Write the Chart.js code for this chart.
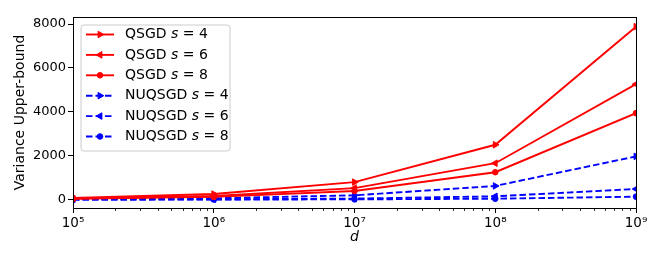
<!DOCTYPE html>
<html lang="en">
<head>
<meta charset="UTF-8">
<title>Variance Upper-bound</title>
<script src="https://cdn.jsdelivr.net/npm/chart.js@4"></script>
<style>
  html, body { margin: 0; padding: 0; background: #fff; }
  #wrap { width: 664px; height: 266px; }
</style>
</head>
<body>
<div id="wrap"><canvas id="chart" width="664" height="266"></canvas></div>
<script>
// data
const dims = [1e5, 1e6, 1e7, 1e8, 1e9];
const qsgdS4 = [80, 255, 800, 2500, 7880];
const qsgdS6 = [53, 166, 526, 1660, 5260];
const qsgdS8 = [40, 125, 395, 1250, 3940];
const nuqsgdS4 = [20, 62, 197, 625, 1970];
const nuqsgdS6 = [5, 15, 48, 152, 485];
const nuqsgdS8 = [1.4, 4.3, 14, 43, 136];
const xTicks = [1e5, 1e6, 1e7, 1e8, 1e9];
const yTicks = [0, 2000, 4000, 6000, 8000];
const yMin = -380;
const yMax = 8320;

const FONT = "'DejaVu Sans', sans-serif";
const RED = '#ff0000';
const BLUE = '#0000ff';
const DASH = [6.5, 3];

const sup = { '0': '⁰', '1': '¹', '2': '²', '3': '³', '4': '⁴', '5': '⁵', '6': '⁶', '7': '⁷', '8': '⁸', '9': '⁹' };

function series(method, s, values, color, dashed, style, rot, radius) {
  return {
    label: method + ' s = ' + s,
    method: method,
    sVal: s,
    data: dims.map((d, i) => ({ x: d, y: values[i] })),
    borderColor: color,
    backgroundColor: color,
    borderWidth: 1.9,
    borderDash: dashed ? DASH : [],
    pointStyle: style,
    pointRotation: rot,
    pointRadius: radius,
    pointBorderWidth: 1,
    pointHoverRadius: radius,
    tension: 0,
    clip: 0
  };
}

const datasets = [
  series('QSGD', 4, qsgdS4, RED, false, 'triangle', 90, 3.8),
  series('QSGD', 6, qsgdS6, RED, false, 'triangle', -90, 3.8),
  series('QSGD', 8, qsgdS8, RED, false, 'circle', 0, 2.8),
  series('NUQSGD', 4, nuqsgdS4, BLUE, true, 'triangle', 90, 3.8),
  series('NUQSGD', 6, nuqsgdS6, BLUE, true, 'triangle', -90, 3.8),
  series('NUQSGD', 8, nuqsgdS8, BLUE, true, 'circle', 0, 2.8)
];

// frame on top/right plus minor log ticks
const framePlugin = {
  id: 'frame',
  afterDraw(chart) {
    const { ctx, chartArea: a } = chart;
    const xs = chart.scales.x;
    ctx.save();
    ctx.strokeStyle = '#000';
    ctx.lineWidth = 1;
    ctx.strokeRect(Math.round(a.left) + 0.5, Math.round(a.top) + 0.5,
      Math.round(a.right - a.left), Math.round(a.bottom - a.top));
    ctx.beginPath();
    for (let e = 5; e < 9; e++) {
      for (let m = 2; m <= 9; m++) {
        const px = Math.round(xs.getPixelForValue(m * Math.pow(10, e))) + 0.5;
        ctx.moveTo(px, a.bottom);
        ctx.lineTo(px, a.bottom + 3);
      }
    }
    ctx.lineWidth = 0.8;
    ctx.stroke();
    ctx.restore();
  }
};

// matplotlib style legend: line sample with marker in the middle
const legendPlugin = {
  id: 'mplLegend',
  afterDraw(chart) {
    const { ctx, chartArea: a } = chart;
    const x0 = a.left + 8, y0 = a.top + 8;
    const w = 149, h = 126, r = 3;
    ctx.save();
    ctx.beginPath();
    ctx.moveTo(x0 + r, y0);
    ctx.arcTo(x0 + w, y0, x0 + w, y0 + h, r);
    ctx.arcTo(x0 + w, y0 + h, x0, y0 + h, r);
    ctx.arcTo(x0, y0 + h, x0, y0, r);
    ctx.arcTo(x0, y0, x0 + w, y0, r);
    ctx.closePath();
    ctx.fillStyle = 'rgba(255,255,255,0.85)';
    ctx.fill();
    ctx.strokeStyle = '#cccccc';
    ctx.lineWidth = 1;
    ctx.stroke();

    chart.data.datasets.forEach((ds, i) => {
      const cy = y0 + 9.5 + i * 20.4;
      ctx.save();
      ctx.strokeStyle = ds.borderColor;
      ctx.fillStyle = ds.backgroundColor;
      ctx.lineWidth = ds.borderWidth;
      ctx.setLineDash(ds.borderDash);
      ctx.beginPath();
      ctx.moveTo(x0 + 5, cy);
      ctx.lineTo(x0 + 33, cy);
      ctx.stroke();
      ctx.setLineDash([]);
      ctx.lineWidth = 1;
      Chart.helpers.drawPoint(ctx, {
        pointStyle: ds.pointStyle, rotation: ds.pointRotation,
        radius: ds.pointRadius, borderWidth: 1
      }, x0 + 19, cy);
      ctx.restore();

      let tx = x0 + 44;
      ctx.fillStyle = '#000';
      ctx.textBaseline = 'middle';
      ctx.font = '14px ' + FONT;
      const head = ds.method + ' ';
      ctx.fillText(head, tx, cy);
      tx += ctx.measureText(head).width;
      ctx.font = 'italic 14px ' + FONT;
      ctx.fillText('s', tx, cy);
      tx += ctx.measureText('s').width;
      ctx.font = '14px ' + FONT;
      ctx.fillText(' = ' + ds.sVal, tx, cy);
    });
    ctx.restore();
  }
};

new Chart(document.getElementById('chart'), {
  type: 'line',
  data: { datasets: datasets },
  options: {
    responsive: false,
    animation: false,
    layout: { padding: { left: 0, top: 17, right: 28, bottom: 20 } },
    plugins: { legend: { display: false }, tooltip: { enabled: false } },
    scales: {
      x: {
        type: 'logarithmic',
        min: 1e5,
        max: 1e9,
        afterBuildTicks: (scale) => { scale.ticks = xTicks.map(v => ({ value: v, major: true })); },
        afterFit: (scale) => { scale.height = 38; },
        ticks: {
          autoSkip: false,
          maxRotation: 0,
          padding: 2,
          color: '#000',
          font: { family: FONT, size: 13.5 },
          callback: (v) => '10' + String(Math.round(Math.log10(v))).split('').map(c => sup[c]).join('')
        },
        grid: { drawOnChartArea: false, drawTicks: true, tickLength: 5, tickColor: '#000', tickWidth: 1 },
        border: { display: true, color: '#000', width: 1 },
        title: {
          display: true,
          text: 'd',
          color: '#000',
          font: { family: FONT, size: 14, style: 'italic' },
          padding: { top: 0, bottom: 0 }
        }
      },
      y: {
        type: 'linear',
        min: yMin,
        max: yMax,
        afterBuildTicks: (scale) => { scale.ticks = yTicks.map(v => ({ value: v })); },
        afterFit: (scale) => { scale.width = 73; },
        ticks: {
          padding: 2,
          color: '#000',
          font: { family: FONT, size: 13 },
          callback: (v) => String(v)
        },
        grid: { drawOnChartArea: false, drawTicks: true, tickLength: 5, tickColor: '#000', tickWidth: 1 },
        border: { display: true, color: '#000', width: 1 },
        title: {
          display: true,
          text: 'Variance Upper-bound',
          color: '#000',
          font: { family: FONT, size: 14 },
          padding: { top: 12, bottom: 0 }
        }
      }
    }
  },
  plugins: [framePlugin, legendPlugin]
});
</script>
</body>
</html>
